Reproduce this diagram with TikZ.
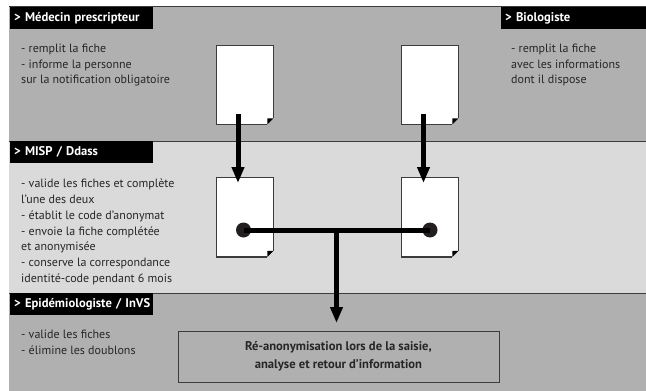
\documentclass[tikz,border=0pt]{standalone}
\usepackage{fontspec}
\setmainfont{PT Sans}
\usetikzlibrary{arrows.meta}
\definecolor{bandD}{HTML}{B0B0B0}
\definecolor{bandL}{HTML}{DADADA}
\definecolor{edge}{HTML}{3C3C3C}
\definecolor{txt}{HTML}{262626}
\definecolor{dotc}{HTML}{231F20}
\tikzset{
  x=1pt,y=-1pt,
  hdr/.style={fill=black,text=white,anchor=north west,inner sep=0pt,minimum height=22pt,text width=#1,font=\fontsize{12.6}{13}\selectfont\bfseries,align=left},
  body/.style={anchor=north west,inner sep=0pt,align=left,text=txt,font=\fontsize{12}{15.9}\selectfont},
  bandline/.style={draw=edge,line width=1pt},
  flow/.style={line width=5pt,-{Triangle[length=16pt,width=12pt]},black},
  linkbar/.style={line width=5pt,black},
  dotmark/.style={circle,fill=dotc,inner sep=0pt,minimum size=15pt},
}
\newcommand{\fichepage}[2]{%
  \node[inner sep=0pt,minimum width=57pt,minimum height=79pt,anchor=north west] (#1) at (#2) {};
  \fill[white] (#1.north west) -- (#1.north east) -- ([yshift=6pt]#1.south east) -- ([xshift=-6pt]#1.south east) -- (#1.south west) -- cycle;
  \fill[black] ([yshift=6pt]#1.south east) -- ([xshift=-6pt]#1.south east) -- ([xshift=-6pt,yshift=6pt]#1.south east) -- cycle;
  \draw[edge,line width=.8pt] ([yshift=6pt]#1.south east) -- (#1.north east) -- (#1.north west) -- (#1.south west) -- ([xshift=-6pt]#1.south east);
  \draw[edge,line width=1pt,yshift=.3pt] (#1.south west) -- ([xshift=-6pt]#1.south east);
}
\begin{document}
\begin{tikzpicture}
\useasboundingbox (0,0) rectangle (646,391);
\fill[white] (0,0) rectangle (646,391);
\fill[bandD] (9,6) rectangle (646,141);
\fill[bandL] (9,141) rectangle (646,293);
\fill[bandD] (9,293) rectangle (646,391);
\draw[bandline] (9,6.3) -- (646,6.3);
\draw[bandline] (9,141.3) -- (646,141.3);
\draw[bandline] (9,293.3) -- (646,293.3);

\node[hdr=143pt] (h1) at (10,7) {\hspace{4pt}\raisebox{-.8pt}{> Médecin prescripteur}};
\node[hdr=145pt] (h2) at (501,7) {\hspace{4pt}\raisebox{-.8pt}{> Biologiste}};
\node[hdr=143pt] (h3) at (10,141) {\hspace{4pt}\raisebox{-.8pt}{> MISP / Ddass}};
\node[hdr=143pt] (h4) at (10,293) {\hspace{4pt}\raisebox{-.8pt}{> Epidémiologiste / InVS}};

\node[body] (t1) at (21,43.5) {- remplit la fiche\\- informe la personne\\sur la notification obligatoire};
\node[body] (t2) at (511,43.5) {- remplit la fiche\\avec les informations\\dont il dispose};
\node[body] (t3) at (21,178.5) {- valide les fiches et complète\\l’une des deux\\- établit le code d’anonymat\\- envoie la fiche complétée\\et anonymisée\\- conserve la correspondance\\identité-code pendant 6 mois};
\node[body] (t4) at (21,330) {- valide les fiches\\- élimine les doublons};

\fichepage{d1}{216,45}
\fichepage{d2}{401,45}
\fichepage{d3}{216,177.5}
\fichepage{d4}{401,177.5}

\node[draw=edge,line width=.9pt,inner sep=0pt,minimum width=321pt,minimum height=51pt,anchor=north west,align=center,text=txt,font=\fontsize{12.6}{17.5}\selectfont\bfseries] (res) at (177.5,330.5) {Ré-anonymisation lors de la saisie,\\analyse et retour d’information};

\coordinate (a1) at (238,114);
\coordinate (a1e) at (238,183);
\coordinate (a2) at (423.5,114);
\coordinate (a2e) at (423.5,183);
\draw[flow] (a1) -- (a1e);
\draw[flow] (a2) -- (a2e);

\node[dotmark] (p1) at (243.5,230) {};
\node[dotmark] (p2) at (430,230) {};
\draw[linkbar] (p1.center) -- (p2.center);
\coordinate (j) at (336.5,230);
\coordinate (je) at (336.5,323);
\draw[flow] (j) -- (je);
\end{tikzpicture}
\end{document}
